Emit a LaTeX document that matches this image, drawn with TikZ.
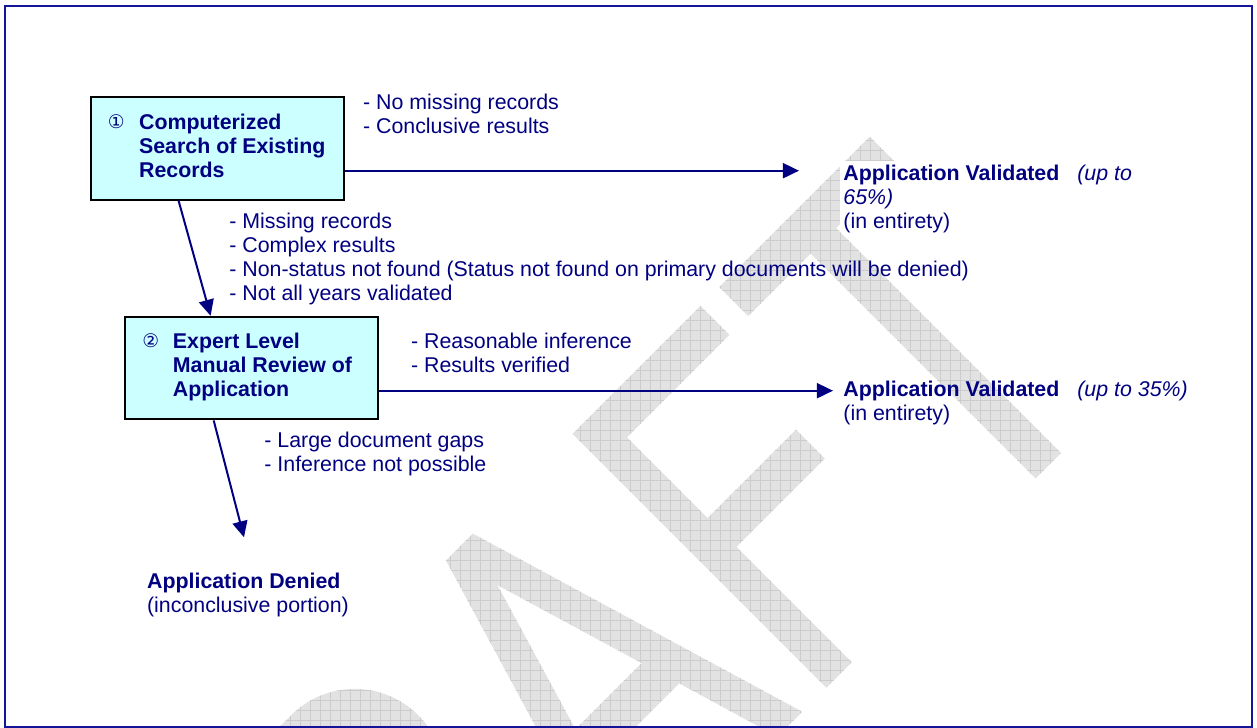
\documentclass[tikz,border=0pt]{standalone}
\usepackage{fontspec}
\setmainfont{Liberation Sans}
\newfontfamily\symfont{DejaVu Sans}
\usetikzlibrary{arrows.meta,calc}
\definecolor{navytext}{RGB}{0,0,128}
\definecolor{framecol}{RGB}{20,20,150}
\definecolor{boxfill}{RGB}{204,255,255}
\definecolor{wmfill}{RGB}{226,226,226}
\definecolor{wmline}{RGB}{204,204,204}
\newcommand\mylines[1]{\begin{tabular}[t]{@{}l@{}}#1\end{tabular}}
\begin{document}
\begin{tikzpicture}[x=0.48pt,y=-0.48pt,
  lbl/.style={anchor=base west, inner sep=0pt, text=navytext, font=\fontsize{10.25pt}{11.52pt}\selectfont},
  bld/.style={lbl, font=\fontsize{10.25pt}{11.52pt}\selectfont\bfseries},
  numsym/.style={anchor=base west, inner sep=0pt, text=navytext, font=\fontsize{9pt}{10pt}\symfont},
  procbox/.style={draw=black, line width=0.96pt, fill=boxfill, minimum width=121.6pt, minimum height=49.25pt, anchor=north west, inner sep=0pt},
  conn/.style={draw=navytext, line width=0.96pt, -{Triangle[length=7.7pt,width=7.2pt]}},
  gridline/.style={draw=wmline, line width=0.3pt}
]
\useasboundingbox (0,0) rectangle (1257,728);

% ---- DRAFT watermark (visible parts) ----
\begin{scope}
  \clip (6,7) rectangle (1251,726);
  \begin{scope}[even odd rule, shift={(757,757)}, x={(0.33941pt,0.33941pt)}, y={(-0.33941pt,0.33941pt)}]
    \clip
    % R bowl
    (-420,359) -- (-300,359) arc[start angle=90, end angle=-90, radius=90] -- (-420,179) -- cycle
    (-384,321) -- (-300,321) arc[start angle=90, end angle=-90, radius=52] -- (-384,217) -- cycle
    % A
    (-188,0) -- (-81,359) -- (-43,359) -- (64,0) -- (28.9,0) -- (-3,107) -- (-121,107) -- (-152.9,0) -- cycle
    (-62,305) -- (-15.2,148) -- (-108.8,148) -- cycle
    % F
    (98,0) -- (98,359) -- (279,359) -- (279,318) -- (134,318) -- (134,204) -- (259,204) -- (259,163) -- (134,163) -- (134,0) -- cycle
    % T
    (305.5,359) -- (518.3,359) -- (518.3,318) -- (430,318) -- (430,0) -- (394,0) -- (394,318) -- (305.5,318) -- cycle;
    \begin{scope}[reset cm, x=0.48pt, y=-0.48pt]
      \fill[wmfill] (0,0) rectangle (1257,728);
      \foreach \g in {0,10,...,1250} \draw[gridline] (\g,0) -- (\g,728);
      \foreach \g in {0,10,...,720} \draw[gridline] (0,\g) -- (1257,\g);
    \end{scope}
  \end{scope}
\end{scope}

% opaque text area of the first result
\fill[white] (840,161) rectangle (1146,231);

% frame
\draw[framecol, line width=0.96pt] (5,6) rectangle (1252,727);

% ---- boxes ----
\node[procbox] (b1) at (89.5,96.2) {};
\node[procbox] (b2) at (123.8,315.8) {};

\node[numsym] (n1) at (107.5,128.5) {①};
\node[bld] (b1t) at (138.7,129.3) {\mylines{Computerized\\Search of Existing\\Records}};
\node[numsym] (n2) at (142,347.5) {②};
\node[bld] (b2t) at (172.5,348.3) {\mylines{Expert Level\\Manual Review of\\Application}};

% ---- targets ----
\coordinate (t1) at (799,170.7);
\coordinate (t2) at (833,390.7);
\coordinate (dtip) at (244,537.3);

\node[lbl] (v1) at (843,180.7) {\mylines{\makebox[112.3pt][l]{\bfseries Application Validated}\textit{(up to}\\\textit{65\%)}\\(in entirety)}};
\node[lbl] (v2) at (843,396.7) {\mylines{\makebox[112.3pt][l]{\bfseries Application Validated}\textit{(up to 35\%)}\\(in entirety)}};
\node[lbl] (den) at (146.7,588.3) {\mylines{\textbf{Application Denied}\\(inconclusive portion)}};

% ---- condition labels ----
\node[lbl] (c1) at (362.7,109.3) {\mylines{- No missing records\\- Conclusive results}};
\node[lbl] (c2) at (229,228.5) {\mylines{- Missing records\\- Complex results\\- Non-status not found (Status not found on primary documents will be denied)\\- Not all years validated}};
\node[lbl] (c3) at (410.7,348.3) {\mylines{- Reasonable inference\\- Results verified}};
\node[lbl] (c4) at (264,447.3) {\mylines{- Large document gaps\\- Inference not possible}};

% ---- connectors ----
\draw[conn] (b1.east |- t1) -- (t1);
\draw[conn] (b2.east |- t2) -- (t2);
\draw[conn] ($(b1.south west)!0.349!(b1.south east)$) -- ($(b2.north west)!0.34!(b2.north east)$);
\draw[conn] ($(b2.south west)!0.352!(b2.south east)$) -- (dtip);
\end{tikzpicture}
\end{document}
